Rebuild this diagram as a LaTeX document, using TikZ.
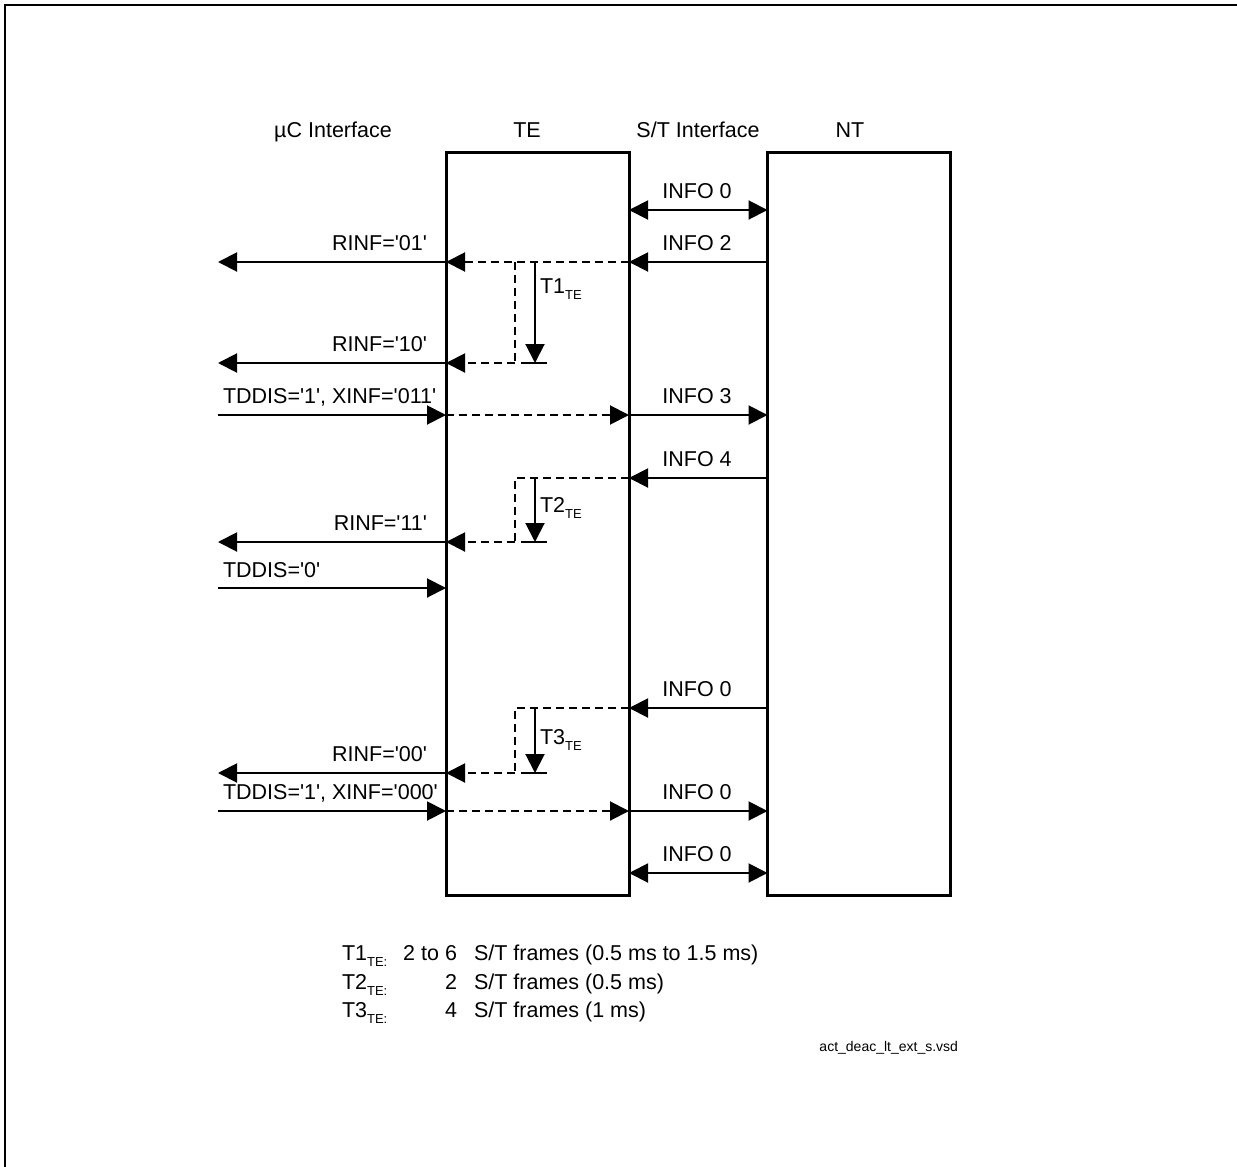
\documentclass[tikz,border=0pt]{standalone}
\usepackage{fontspec}
\setmainfont{Liberation Sans}[Ligatures=TeXOff]
\usetikzlibrary{arrows.meta}
\newcommand{\subTE}[1]{\raisebox{-6pt}{\fontsize{13}{13}\selectfont #1}}
\begin{document}
\begin{tikzpicture}[x=1pt,y=-1pt,
  every node/.style={inner sep=0pt, outer sep=0pt, font=\fontsize{21.5}{24}\selectfont},
  box/.style={draw, line width=3pt, minimum width=183pt, minimum height=743pt},
  sig/.style={line width=2pt, -{Triangle[length=19pt,width=19pt]}},
  both/.style={line width=2pt, {Triangle[length=19pt,width=19pt]}-{Triangle[length=19pt,width=19pt]}},
  dsh/.style={line width=2pt, dash pattern=on 8pt off 5pt},
  dsig/.style={dsh, -{Triangle[length=19pt,width=19pt]}},
  tim/.style={line width=2pt, -{Triangle[length=19pt,width=19pt]}},
  tick/.style={line width=2pt},
  lblc/.style={anchor=base},
  lble/.style={anchor=base east},
  lblw/.style={anchor=base west},
  frame/.style={line width=2.5pt}
]
\useasboundingbox (0,0) rectangle (1237,1167);
% outer frame
\coordinate (fa) at (5,1167);
\coordinate (fb) at (5,5);
\coordinate (fc) at (1237,5);
\draw[frame] (fa) -- (fb) -- (fc);

% boxes
\node[box] (te) at (537.5,523.5) {};
\node[box] (nt) at (859,523.5) {};

% headers
\node[lblc] (h1) at (333,137) {µC Interface};
\node[lblc] (h2) at (527,137) {TE};
\node[lblc] (h3) at (698,137) {S/T Interface};
\node[lblc] (h4) at (850,137) {NT};

% row levels (left end points)
\coordinate (ya) at (218,210);
\coordinate (yb) at (218,262);
\coordinate (yc) at (218,363);
\coordinate (yd) at (218,415);
\coordinate (ye) at (218,478);
\coordinate (yf) at (218,542);
\coordinate (yg) at (218,588);
\coordinate (yh) at (218,708);
\coordinate (yi) at (218,773);
\coordinate (yj) at (218,811);
\coordinate (yk) at (218,873);

% timer corner points
\coordinate (d1t) at (515,262);
\coordinate (d1b) at (515,363);
\coordinate (s1t) at (535,262);
\coordinate (s1b) at (535,363);
\coordinate (k1l) at (521,363);
\coordinate (k1r) at (547,363);

\coordinate (d2t) at (515,478);
\coordinate (d2b) at (515,542);
\coordinate (s2t) at (535,478);
\coordinate (s2b) at (535,542);
\coordinate (k2l) at (521,542);
\coordinate (k2r) at (547,542);

\coordinate (d3t) at (515,708);
\coordinate (d3b) at (515,773);
\coordinate (s3t) at (535,708);
\coordinate (s3b) at (535,773);
\coordinate (k3l) at (521,773);
\coordinate (k3r) at (547,773);

% row a: INFO 0 both ways
\draw[both] (te.east |- ya) -- (nt.west |- ya);
\node[lblc] (la) at (697,198) {INFO 0};

% row b: INFO 2, RINF='01'
\draw[sig] (nt.west |- yb) -- (te.east |- yb);
\draw[dsig] (te.east |- yb) -- (te.west |- yb);
\draw[sig] (te.west |- yb) -- (yb);
\node[lblc] (lb) at (697,250) {INFO 2};
\node[lble] (lb2) at (427,250) {RINF='01'};

% T1 timer
\draw[dsh] (d1t) -- (d1b);
\draw[dsig] (d1b) -- (te.west |- yc);
\draw[tim] (s1t) -- (s1b);
\draw[tick] (k1l) -- (k1r);
\node[lblw] (t1) at (540,293) {T1\subTE{TE}};

% row c: RINF='10'
\draw[sig] (te.west |- yc) -- (yc);
\node[lble] (lc) at (427,351) {RINF='10'};

% row d: TDDIS='1', XINF='011', INFO 3
\draw[sig] (yd) -- (te.west |- yd);
\draw[dsig] (te.west |- yd) -- (te.east |- yd);
\draw[sig] (te.east |- yd) -- (nt.west |- yd);
\node[lblw] (ld) at (223,403) {TDDIS='1', XINF='011'};
\node[lblc] (ld2) at (697,403) {INFO 3};

% row e: INFO 4, T2
\draw[sig] (nt.west |- ye) -- (te.east |- ye);
\draw[dsh] (te.east |- ye) -- (d2t) -- (d2b);
\draw[dsig] (d2b) -- (te.west |- yf);
\draw[tim] (s2t) -- (s2b);
\draw[tick] (k2l) -- (k2r);
\node[lblc] (le) at (697,466) {INFO 4};
\node[lblw] (t2) at (540,512) {T2\subTE{TE}};

% row f: RINF='11'
\draw[sig] (te.west |- yf) -- (yf);
\node[lble] (lf) at (427,530) {RINF='11'};

% row g: TDDIS='0'
\draw[sig] (yg) -- (te.west |- yg);
\node[lblw] (lg) at (223,577) {TDDIS='0'};

% row h: INFO 0, T3
\draw[sig] (nt.west |- yh) -- (te.east |- yh);
\draw[dsh] (te.east |- yh) -- (d3t) -- (d3b);
\draw[dsig] (d3b) -- (te.west |- yi);
\draw[tim] (s3t) -- (s3b);
\draw[tick] (k3l) -- (k3r);
\node[lblc] (lh) at (697,696) {INFO 0};
\node[lblw] (t3) at (540,744) {T3\subTE{TE}};

% row i: RINF='00'
\draw[sig] (te.west |- yi) -- (yi);
\node[lble] (li) at (427,761) {RINF='00'};

% row j: TDDIS='1', XINF='000', INFO 0
\draw[sig] (yj) -- (te.west |- yj);
\draw[dsig] (te.west |- yj) -- (te.east |- yj);
\draw[sig] (te.east |- yj) -- (nt.west |- yj);
\node[lblw] (lj) at (223,799) {TDDIS='1', XINF='000'};
\node[lblc] (lj2) at (697,799) {INFO 0};

% row k: INFO 0 both ways
\draw[both] (te.east |- yk) -- (nt.west |- yk);
\node[lblc] (lk) at (697,861) {INFO 0};

% legend
\node[lblw] (g1a) at (342,960) {T1\subTE{TE:}};
\node[lble] (g1b) at (457,960) {2 to 6};
\node[lblw] (g1c) at (474,960) {S/T frames (0.5 ms to 1.5 ms)};
\node[lblw] (g2a) at (342,989) {T2\subTE{TE:}};
\node[lble] (g2b) at (457,989) {2};
\node[lblw] (g2c) at (474,989) {S/T frames (0.5 ms)};
\node[lblw] (g3a) at (342,1017) {T3\subTE{TE:}};
\node[lble] (g3b) at (457,1017) {4};
\node[lblw] (g3c) at (474,1017) {S/T frames (1 ms)};

\node[anchor=base east, font=\fontsize{14}{16}\selectfont] (fn) at (958,1051) {act\_deac\_lt\_ext\_s.vsd};
\end{tikzpicture}
\end{document}
